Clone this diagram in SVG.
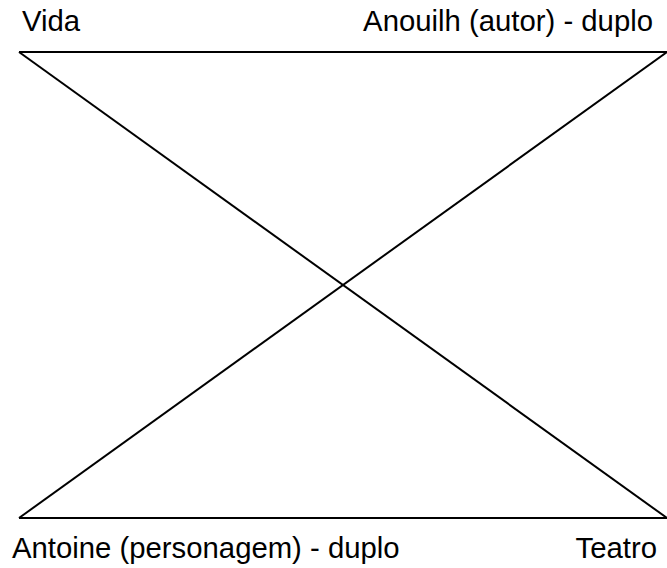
<svg xmlns="http://www.w3.org/2000/svg" width="667" height="568" viewBox="0 0 667 568">
<style>
.l{stroke:#000;stroke-width:2;fill:none}
.t{font-family:"Liberation Sans",Arial,sans-serif;font-size:29.3px;fill:#000}
</style>
<rect width="667" height="568" fill="#fff"/>
<g id="connectors">
<line class="l" x1="19" y1="52" x2="667" y2="52"/>
<line class="l" x1="19" y1="518" x2="667" y2="518"/>
<line class="l" x1="19" y1="52" x2="667" y2="518"/>
<line class="l" x1="19" y1="518" x2="667" y2="52"/>
</g>
<g id="vida"><text class="t" x="22" y="31">Vida</text></g>
<g id="anouilh"><text class="t" x="653" y="31" text-anchor="end">Anouilh (autor) - duplo</text></g>
<g id="antoine"><text class="t" x="12" y="558">Antoine (personagem) - duplo</text></g>
<g id="teatro"><text class="t" x="657" y="558" text-anchor="end">Teatro</text></g>
</svg>
